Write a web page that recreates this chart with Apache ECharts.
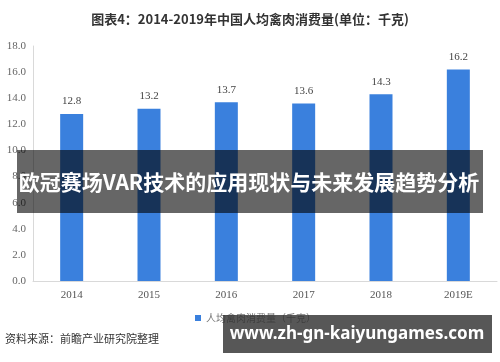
<!DOCTYPE html>
<html><head><meta charset="utf-8">
<script src="https://cdn.jsdelivr.net/npm/echarts@6/dist/echarts.min.js"></script>
<style>html,body{margin:0;padding:0;background:#fff}#c{width:500px;height:362px}</style>
</head><body><div id="c"></div>
<script>
const categories = ['2014','2015','2016','2017','2018','2019E'];
const values = [12.8, 13.2, 13.7, 13.6, 14.3, 16.2];
const seriesName = '人均禽肉消费量（千克）';
const titleText = '图表4：2014-2019年中国人均禽肉消费量(单位：千克)';
const sourceText = '资料来源：前瞻产业研究院整理';
const bannerText = '欧冠赛场VAR技术的应用现状与未来发展趋势分析';
const urlText = 'www.zh-gn-kaiyungames.com';

const chart = echarts.init(document.getElementById('c'), null, {renderer:'canvas'});
chart.setOption({
  animation:false,
  backgroundColor:'#fff',
  title:{text:titleText,left:'center',top:8,textStyle:{fontFamily:'Noto Sans CJK SC',fontSize:13,fontWeight:'bold',color:'#333'}},
  grid:{left:33,right:3,top:46,bottom:81},
  legend:{data:[seriesName],left:190,top:308,itemWidth:6,itemHeight:6,itemGap:4,icon:'rect',
    textStyle:{fontFamily:'Noto Sans CJK SC',fontSize:10,color:'#777'}},
  xAxis:{type:'category',data:categories,
    axisLine:{lineStyle:{color:'#d9d9d9'}},axisTick:{show:false},
    axisLabel:{fontFamily:'Liberation Serif',fontSize:11,color:'#555',margin:9}},
  yAxis:{type:'value',min:0,max:18,interval:2,
    axisLine:{show:true,lineStyle:{color:'#d9d9d9'}},axisTick:{show:false},splitLine:{show:false},
    axisLabel:{fontFamily:'Liberation Serif',fontSize:11,color:'#666',margin:7,formatter:v=>v.toFixed(1)}},
  series:[{name:seriesName,type:'bar',data:values,barWidth:23,
    itemStyle:{color:'#3a80dd'},
    label:{show:true,position:'top',distance:7,fontFamily:'Liberation Serif',fontSize:11,color:'#444',formatter:p=>p.value.toFixed(1)}}],
  graphic:[
    {type:'text',left:5,top:333,style:{text:sourceText,fontFamily:'Noto Sans CJK SC',fontSize:11,fill:'#333'}},
    {type:'text',left:455,top:330,style:{text:'APP',fontFamily:'Noto Sans',fontSize:11,fill:'#999'}},
    {type:'rect',shape:{x:17,y:150,width:466,height:63},style:{fill:'rgba(0,0,0,0.6)'},z:100},
    {type:'text',x:249,y:182,style:{text:bannerText,fontFamily:'Noto Sans CJK SC',fontSize:21,fontWeight:'bold',fill:'#fff',align:'center',verticalAlign:'middle'},z:101},
    {type:'rect',shape:{x:223,y:315,width:269,height:38},style:{fill:'rgba(50,50,50,0.82)'},z:100},
    {type:'text',x:357,y:334,style:{text:urlText,fontFamily:'Noto Sans',fontSize:17,fontWeight:'bold',fill:'#fff',align:'center',verticalAlign:'middle'},z:101}
  ]
});
</script></body></html>
